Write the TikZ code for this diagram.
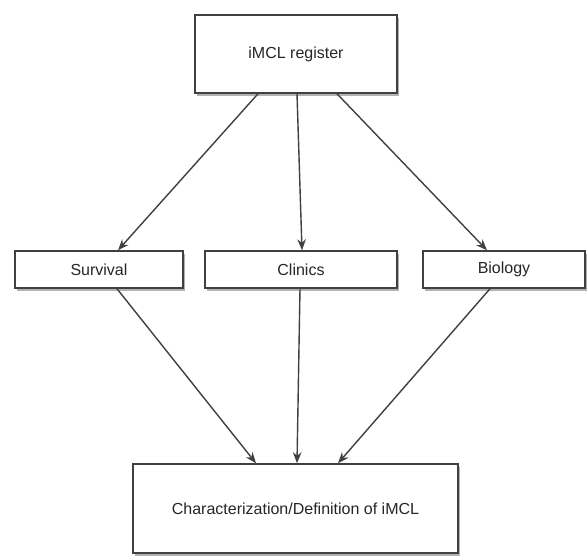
\documentclass[tikz,border=0pt]{standalone}
\usepackage{fontspec}
\setmainfont{Liberation Sans}
\usetikzlibrary{arrows.meta,shadows}

\begin{document}
\begin{tikzpicture}[x=1pt, y=-1pt,
		box/.style={draw=black!75, line width=1.5pt, fill=white, inner sep=0pt,
			drop shadow={shadow xshift=1.5pt, shadow yshift=-2.5pt, opacity=0.5, fill=black!60},
			font=\fontsize{16}{19}\selectfont, text=black!85},
		link/.style={draw=black!75, line width=1.4pt, -{Stealth[length=11pt,width=8.5pt]}}]
			%%%%% START %%%%%
			\useasboundingbox[fill=white] (0, 0) rectangle (587, 555);
			
			\node[box, minimum width=202pt, minimum height=78pt] (register) at (296, 54) {iMCL register};
			
			\node[box, minimum width=168pt, minimum height=37pt] (survival) at (99, 269.5) {Survival};
			\node[box, minimum width=192pt, minimum height=37pt] (clinics) at (301, 269.5) {Clinics};
			\node[box, minimum width=162pt, minimum height=37pt] (biology) at (504, 269.5) {Biology};
			
			\node[box, minimum width=325pt, minimum height=89pt] (definition) at (295.5, 508.5) {Characterization/Definition of iMCL};
			
			\draw[link] ([xshift=-38pt]register.south) -- ([xshift=19pt]survival.north);
			\draw[link] ([xshift=1pt]register.south) -- ([xshift=1pt]clinics.north);
			\draw[link] ([xshift=41pt]register.south) -- ([xshift=-17pt]biology.north);
			
			\draw[link] ([xshift=18pt]survival.south) -- ([xshift=-39.5pt]definition.north);
			\draw[link] ([xshift=-1pt]clinics.south) -- ([xshift=1.5pt]definition.north);
			\draw[link] ([xshift=-14pt]biology.south) -- ([xshift=42.5pt]definition.north);
			%%%%% END %%%%%
		\end{tikzpicture}
\end{document}
